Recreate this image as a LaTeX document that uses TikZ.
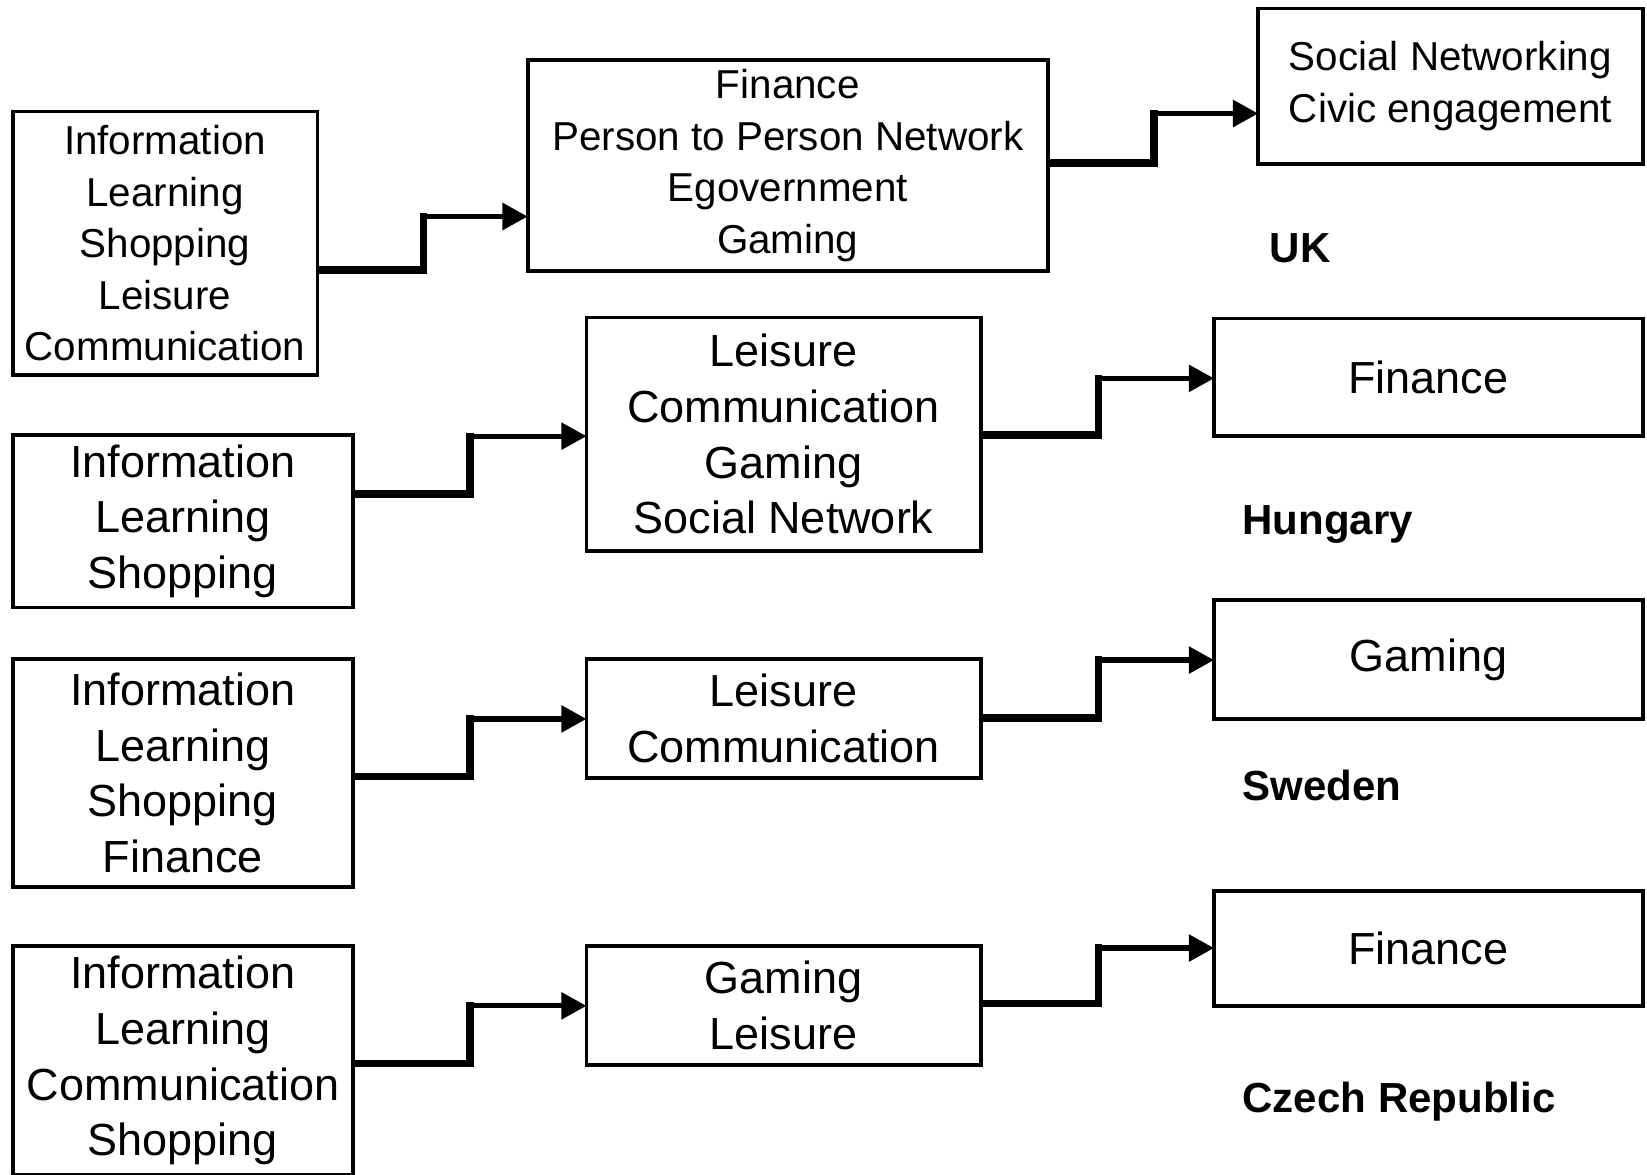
\documentclass[tikz,border=0pt]{standalone}
\usepackage{fontspec}
\setmainfont{Liberation Sans}
\usetikzlibrary{arrows.meta,calc}
\tikzset{
  ukbox/.style={draw, line width=3.6pt, inner sep=0pt, outer sep=0pt, align=center,
    font=\fontsize{38.4}{49}\selectfont},
  bigbox/.style={ukbox, font=\fontsize{42.8}{53}\selectfont},
  country/.style={anchor=base west, inner sep=0pt, font=\fontsize{40}{48}\selectfont\bfseries},
  legA/.style={line width=7pt, line join=miter, line cap=rect, shorten <=3.5pt},
  legB/.style={line width=5pt, -{Triangle[length=24pt,width=25pt]}},
}
\begin{document}
\begin{tikzpicture}[x=1pt,y=-1pt]
\useasboundingbox[fill=white] (0,0) rectangle (1567,1117);

% UK
\node[ukbox, minimum width=290pt, minimum height=251pt] (A1) at (157,231.5)
  {Information\\Learning\\Shopping\\Leisure\\Communication};
\node[ukbox, minimum width=495pt, minimum height=201pt] (A2) at (749.5,157.5)
  {Finance\\Person to Person Network\\Egovernment\\Gaming};
\node[ukbox, minimum width=366pt, minimum height=148pt] (A3) at (1380,82)
  {Social Networking\\Civic engagement};
\node[country] (UK) at (1208,250) {UK};

% Hungary
\node[bigbox, minimum width=324pt, minimum height=164pt] (B1) at (174,496)
  {Information\\Learning\\Shopping};
\node[bigbox, minimum width=375pt, minimum height=222pt] (B2) at (745.5,413)
  {Leisure\\Communication\\Gaming\\Social Network};
\node[bigbox, minimum width=408pt, minimum height=112pt] (B3) at (1359,359)
  {Finance};
\node[country] (HU) at (1182,509) {Hungary};

% Sweden
\node[bigbox, minimum width=324pt, minimum height=217pt] (C1) at (174,735.5)
  {Information\\Learning\\Shopping\\Finance};
\node[bigbox, minimum width=375pt, minimum height=113pt] (C2) at (745.5,683.5)
  {Leisure\\Communication};
\node[bigbox, minimum width=408pt, minimum height=113pt] (C3) at (1359,627.5)
  {Gaming};
\node[country] (SE) at (1182,762) {Sweden};

% Czech Republic
\node[bigbox, minimum width=324pt, minimum height=218pt] (D1) at (174,1009)
  {Information\\Learning\\Communication\\Shopping};
\node[bigbox, minimum width=375pt, minimum height=113pt] (D2) at (745.5,956.5)
  {Gaming\\Leisure};
\node[bigbox, minimum width=408pt, minimum height=109pt] (D3) at (1359,902.5)
  {Finance};
\node[country] (CZ) at (1182,1058) {Czech Republic};

% connector corners
\coordinate (ka) at (403,206);
\coordinate (kb) at (1098,108);
\coordinate (kc) at (447,415);
\coordinate (kd) at (1045,360);
\coordinate (ke) at (447,684);
\coordinate (kf) at (1045,628);
\coordinate (kg) at (447,957);
\coordinate (kh) at (1045,902);

\draw[legA] (A1.east |- 0,257) -| (ka);  \draw[legB] (ka) -- (A2.west |- ka);
\draw[legA] (A2.east |- 0,155) -| (kb);  \draw[legB] (kb) -- (A3.west |- kb);
\draw[legA] (B1.east |- 0,470) -| (kc);  \draw[legB] (kc) -- (B2.west |- kc);
\draw[legA] (B2.east |- 0,414) -| (kd);  \draw[legB] (kd) -- (B3.west |- kd);
\draw[legA] (C1.east |- 0,739) -| (ke);  \draw[legB] (ke) -- (C2.west |- ke);
\draw[legA] (C2.east |- 0,683) -| (kf);  \draw[legB] (kf) -- (C3.west |- kf);
\draw[legA] (D1.east |- 0,1012) -| (kg); \draw[legB] (kg) -- (D2.west |- kg);
\draw[legA] (D2.east |- 0,955) -| (kh);  \draw[legB] (kh) -- (D3.west |- kh);
\end{tikzpicture}
\end{document}
